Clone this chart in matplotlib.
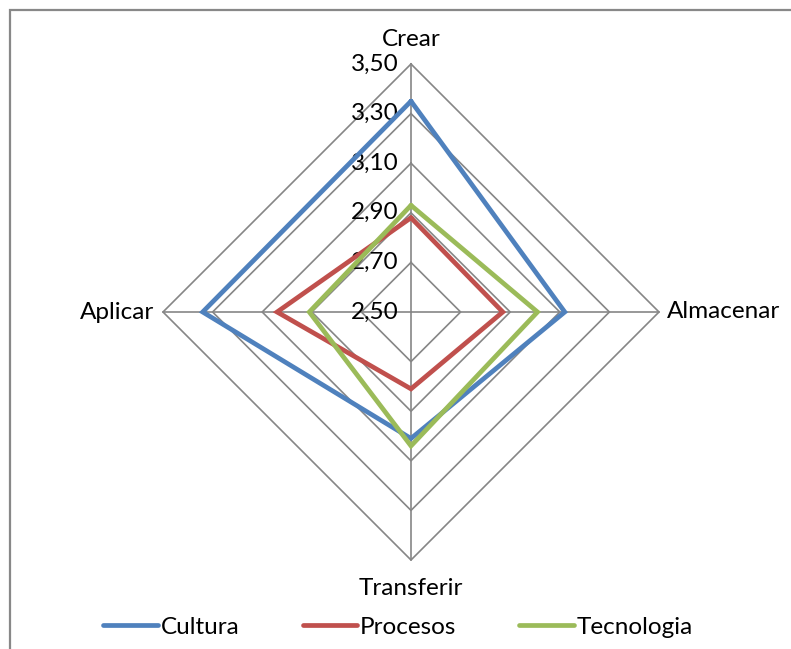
import numpy as np
import matplotlib
matplotlib.use("Agg")
import matplotlib.pyplot as plt
from matplotlib.patches import Rectangle

categories = ["Crear", "Almacenar", "Transferir", "Aplicar"]
cultura = [3.35, 3.12, 3.01, 3.34]
procesos = [2.88, 2.87, 2.81, 3.04]
tecnologia = [2.93, 3.01, 3.04, 2.91]
series_names = ["Cultura", "Procesos", "Tecnologia"]
levels = [2.50, 2.70, 2.90, 3.10, 3.30, 3.50]
level_labels = ["2,50", "2,70", "2,90", "3,10", "3,30", "3,50"]

colors = ["#4F81BD", "#C0504D", "#9BBB59"]
grid_color = "#868686"
plt.rcParams['font.family'] = ['Lato', 'DejaVu Sans']
fs = 17.5

W, H = 791, 649
fig = plt.figure(figsize=(W / 100, H / 100), dpi=100)
cx, cy, R = 411, 312, 248
ax = fig.add_axes([(cx - R) / W, 1 - (cy + R) / H, 2 * R / W, 2 * R / H], projection='polar')
ax.set_theta_zero_location('N')
ax.set_theta_direction(-1)
ax.set_ylim(levels[0], levels[-1])
ax.grid(False)
ax.spines['polar'].set_visible(False)
ax.set_xticks([])
ax.set_yticks([])
ax.patch.set_visible(False)

n = len(categories)
angles = np.arange(n) * 2 * np.pi / n
closed = np.concatenate([angles, angles[:1]])

# polygon grid
for lv in levels:
    ax.plot(closed, [lv] * (n + 1), color=grid_color, lw=1.2, zorder=1, clip_on=False)
# spokes
for a in angles:
    ax.plot([a, a], [levels[0], levels[-1]], color=grid_color, lw=1.2, zorder=1, clip_on=False)

# series
for name, vals, c in zip(series_names, [cultura, procesos, tecnologia], colors):
    ax.plot(closed, list(vals) + [vals[0]], color=c, lw=3.4, label=name, zorder=3,
            solid_joinstyle='miter', solid_capstyle='round', clip_on=False)

# radial tick labels
for lv, lab in zip(levels, level_labels):
    ax.annotate(lab, xy=(0, lv), xytext=(-9, 0), textcoords='offset points',
                ha='right', va='center', fontsize=fs, color='black',
                annotation_clip=False, zorder=2)

# category labels
ax.annotate(categories[0], xy=(angles[0], levels[-1]), xytext=(0, 10), textcoords='offset points',
            ha='center', va='bottom', fontsize=fs, annotation_clip=False)
ax.annotate(categories[1], xy=(angles[1], levels[-1]), xytext=(6, 0), textcoords='offset points',
            ha='left', va='center', fontsize=fs, annotation_clip=False)
ax.annotate(categories[2], xy=(angles[2], levels[-1]), xytext=(0, -13), textcoords='offset points',
            ha='center', va='top', fontsize=fs, annotation_clip=False)
ax.annotate(categories[3], xy=(angles[3], levels[-1]), xytext=(-6, 0), textcoords='offset points',
            ha='right', va='center', fontsize=fs, annotation_clip=False)

leg = fig.legend(loc='center', bbox_to_anchor=(398 / W, 1 - 627 / H), ncol=3, frameon=False,
                 fontsize=fs, handlelength=2.25, handletextpad=0.1, columnspacing=2.6)

# chart border (partially visible)
fig.patches.append(Rectangle((10 / W, -0.1), 1.2, 1.1 - 10 / H, transform=fig.transFigure,
                             fill=False, edgecolor='#888888', lw=1.6, clip_on=False))

fig.savefig("out.png", dpi=100, facecolor='white')
